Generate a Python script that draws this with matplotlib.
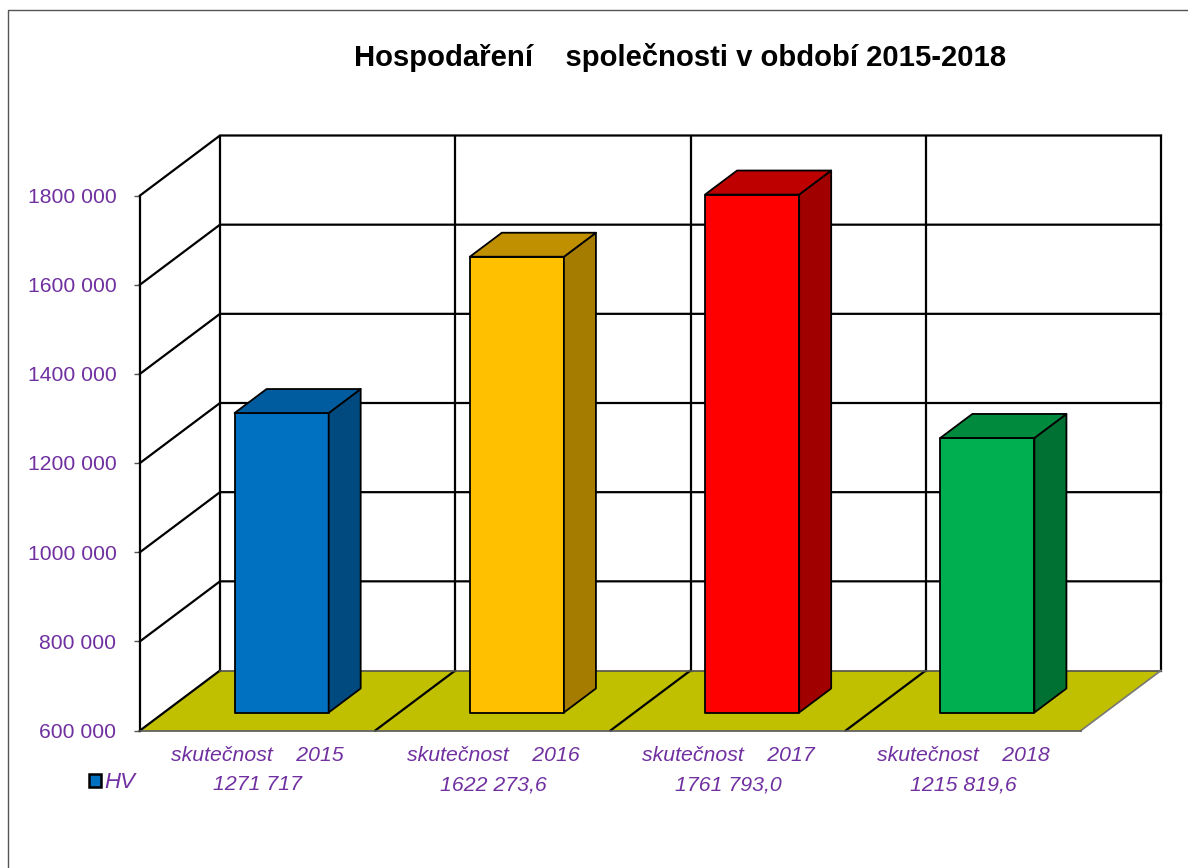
import matplotlib
matplotlib.use("Agg")
import matplotlib.pyplot as plt
from matplotlib.patches import Polygon, Patch
from matplotlib.lines import Line2D

plt.rcParams['font.family'] = ['Liberation Sans', 'DejaVu Sans']

title = "Hospodaření    společnosti v období 2015-2018"
categories = ["skutečnost    2015", "skutečnost    2016", "skutečnost    2017", "skutečnost    2018"]
value_labels = ["1271 717", "1622 273,6", "1761 793,0", "1215 819,6"]
values = [1271717, 1622273.6, 1761793.0, 1215819.6]
y_ticks = [600000, 800000, 1000000, 1200000, 1400000, 1600000, 1800000]
y_tick_labels = ["600 000", "800 000", "1000 000", "1200 000", "1400 000", "1600 000", "1800 000"]
front_colors = ["#0070C0", "#FFC000", "#FF0000", "#00B050"]
top_colors = ["#005C9E", "#C09000", "#BF0000", "#008A3E"]
side_colors = ["#004A80", "#A57C00", "#A00000", "#007033"]
legend_label = "HV"

W, H = 1188, 868
PURPLE = "#7030A0"
X0_PX, CAT_PX = 140.0, 235.25
Y0_PX, V_PER_PX = 730.5, 1200000 / 535.0
DEPTH_X = 80 / CAT_PX
DEPTH_V = 60 * V_PER_PX
YMIN = y_ticks[0]

fig = plt.figure(figsize=(W / 100, H / 100), dpi=100, facecolor="white")
ax = fig.add_axes([0, 0, 1, 1])
ax.set_xlim(-X0_PX / CAT_PX, (W - X0_PX) / CAT_PX)
ax.set_ylim(YMIN - (H - Y0_PX) * V_PER_PX, YMIN + Y0_PX * V_PER_PX)
ax.patch.set_alpha(0)


def proj(x, v, d):
    return (x + d * DEPTH_X, v + d * DEPTH_V)


n = len(categories)
ytop = y_ticks[-1]
GRID = dict(color="black", lw=1.6, solid_capstyle="projecting", zorder=2)

# floor
ax.add_patch(Polygon([proj(0, YMIN, 0), proj(n, YMIN, 0), proj(n, YMIN, 1), proj(0, YMIN, 1)],
                     closed=True, facecolor="#C0C000", edgecolor="none", zorder=1))
# walls: gridlines
for t in y_ticks[1:]:
    a, b, c = proj(0, t, 0), proj(0, t, 1), proj(n, t, 1)
    ax.plot([a[0], b[0], c[0]], [a[1], b[1], c[1]], **GRID)
for i in range(n + 1):
    a, b = proj(i, YMIN, 1), proj(i, ytop, 1)
    ax.plot([a[0], b[0]], [a[1], b[1]], **GRID)
for i in range(n):
    a, b = proj(i, YMIN, 0), proj(i, YMIN, 1)
    ax.plot([a[0], b[0]], [a[1], b[1]], **GRID)
a, b = proj(0, YMIN, 1), proj(n, YMIN, 1)
ax.plot([a[0], b[0]], [a[1], b[1]], color="#555555", lw=1.2, zorder=2)
a, b = proj(n, YMIN, 0), proj(n, YMIN, 1)
ax.plot([a[0], b[0]], [a[1], b[1]], color="#777777", lw=1.2, zorder=2)

# bars
for i, v in enumerate(values):
    x0, x1 = i + 0.3, i + 0.7
    d0, d1 = 0.3, 0.7
    edge = dict(edgecolor="black", lw=1.3, joinstyle="round", zorder=3)
    ax.add_patch(Polygon([proj(x0, YMIN, d0), proj(x1, YMIN, d0), proj(x1, v, d0), proj(x0, v, d0)],
                         closed=True, facecolor=front_colors[i], **edge))
    ax.add_patch(Polygon([proj(x1, YMIN, d0), proj(x1, YMIN, d1), proj(x1, v, d1), proj(x1, v, d0)],
                         closed=True, facecolor=side_colors[i], **edge))
    ax.add_patch(Polygon([proj(x0, v, d0), proj(x1, v, d0), proj(x1, v, d1), proj(x0, v, d1)],
                         closed=True, facecolor=top_colors[i], **edge))

# axes
for s in ("top", "right"):
    ax.spines[s].set_visible(False)
ax.spines["left"].set_position(("data", 0))
ax.spines["left"].set_bounds(y_ticks[0], y_ticks[-1])
ax.spines["left"].set_linewidth(1.6)
ax.spines["left"].set_zorder(4)
ax.spines["bottom"].set_position(("data", YMIN))
ax.spines["bottom"].set_bounds(0, n)
ax.spines["bottom"].set_color("#555555")
ax.spines["bottom"].set_linewidth(1.2)
ax.spines["bottom"].set_zorder(4)
ax.set_yticks(y_ticks)
ax.set_yticklabels(y_tick_labels, fontsize=15.2, color=PURPLE)
ax.tick_params(axis="y", length=4, width=1, color="#555555", pad=13)
ax.set_xticks([i + 0.5 for i in range(n)])
ax.set_xticklabels([f"{c}\n{l}" for c, l in zip(categories, value_labels)],
                   fontsize=15.3, color=PURPLE, style="italic", linespacing=1.65)
ax.tick_params(axis="x", length=0, pad=11.5)

ax.text(0.5725, 1 - 58 / H, title, transform=ax.transAxes, ha="center", va="center",
        fontsize=21.1, fontweight="bold", color="black")

# legend
handle = Patch(facecolor=front_colors[0], edgecolor="black", linewidth=1.8)
leg = ax.legend([handle], [legend_label], loc="center left",
                bbox_to_anchor=(89 / W, 1 - 783 / H), frameon=False, handlelength=0.53,
                handleheight=0.53, handletextpad=0.15, borderpad=0, borderaxespad=0,
                prop=dict(size=16, style="italic"), labelcolor=PURPLE)

# outer frame
fig.add_artist(Line2D([7.5 / W, 7.5 / W, 1], [0, 1 - 9.5 / H, 1 - 9.5 / H], color="#555555", lw=1))

fig.savefig("out.png", dpi=100)
